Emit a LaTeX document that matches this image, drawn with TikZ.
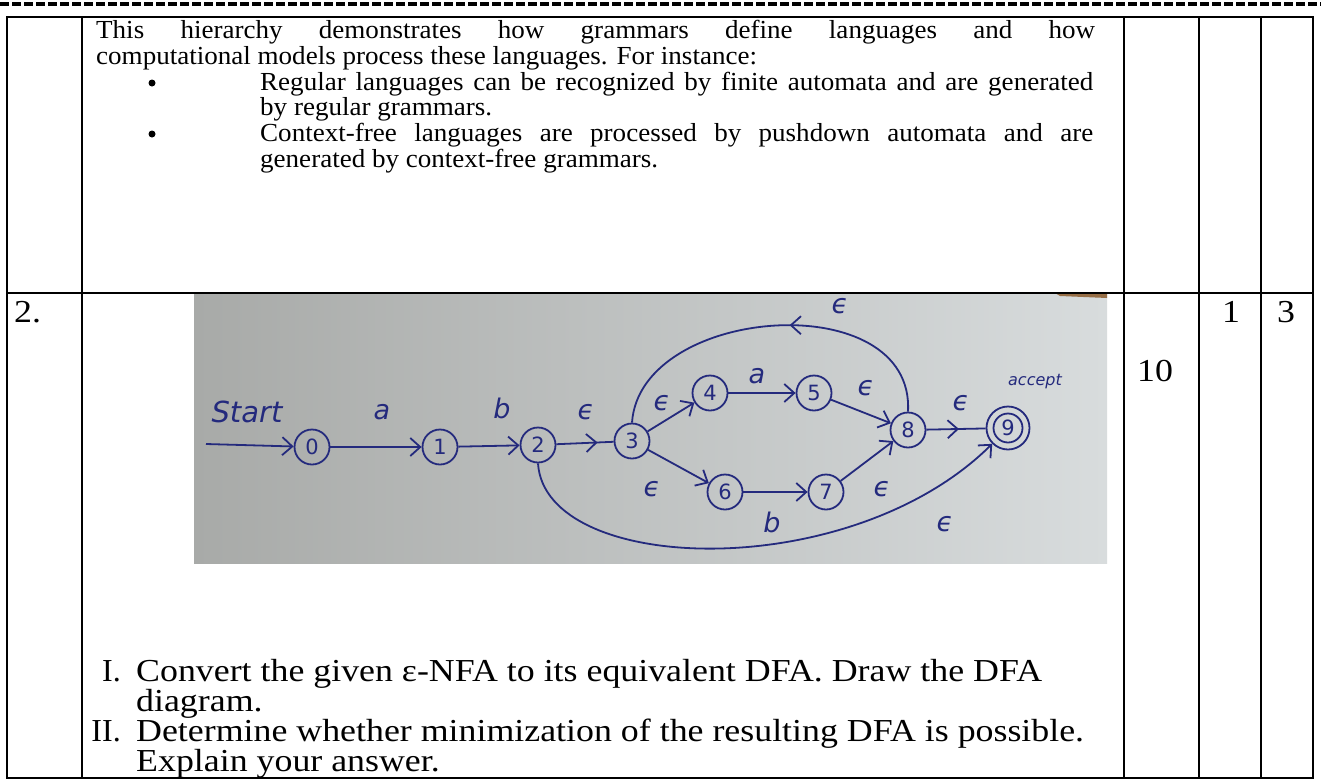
\documentclass[tikz,border=0pt]{standalone}
\usepackage{fontspec}
\setmainfont{Liberation Serif}[FakeStretch=1.04]
\newfontfamily\bigfont{Liberation Serif}[FakeStretch=1.12]
\newfontfamily\numfont{Liberation Serif}
\newfontfamily\hand{DejaVu Sans}
\usetikzlibrary{arrows.meta,decorations.markings}
\definecolor{ink}{RGB}{36,42,125}
\definecolor{photoL}{RGB}{168,170,168}
\definecolor{photoR}{RGB}{216,220,221}
\definecolor{tape}{RGB}{150,110,70}
\begin{document}
\begin{tikzpicture}[x=1pt,y=-1pt,
  rule/.style={line width=2pt,black},
  body/.style={anchor=base west,inner sep=0pt,font=\fontsize{26}{28}\selectfont},
  big/.style={anchor=base west,inner sep=0pt,font=\bigfont\fontsize{32}{36}\selectfont},
  roman/.style={anchor=base east,inner sep=0pt,font=\numfont\fontsize{32}{36}\selectfont},
  dot/.style={circle,fill=black,inner sep=0pt,minimum size=7pt},
  state/.style={circle,draw=ink,line width=1.8pt,minimum size=35pt,inner sep=0pt,text=ink,font=\hand\fontsize{21}{21}\selectfont},
  lab/.style={text=ink,inner sep=0pt,font=\hand\itshape\fontsize{27}{27}\selectfont},
  tipb/.tip={Straight Barb[length=10pt,width=18pt,line width=1.8pt]},
  edge/.style={draw=ink,line width=1.8pt,-tipb},
  midedge/.style={draw=ink,line width=1.8pt,postaction={decorate},decoration={markings,mark=at position #1 with {\arrow{tipb}}}},
  revedge/.style={draw=ink,line width=1.8pt,postaction={decorate},decoration={markings,mark=at position #1 with {\arrowreversed{tipb}}}},
]
\useasboundingbox (0,0) rectangle (1321,779);
\fill[white] (0,0) rectangle (1321,779);
% top dashed separator
\draw[line width=3.5pt,dash pattern=on 9pt off 3pt] (0,4) -- (1321,4);

% photo background
\shade[left color=photoL,right color=photoR] (194,293) rectangle (1107,563);
\fill[tape] (1055,293) -- (1107,293) -- (1107,298) -- (1060,296) -- cycle;

% table rules
\draw[rule] (7,17) rectangle (1313,778);
\draw[rule] (7,293) -- (1313,293);
\foreach \xx in {82,1124,1199,1261} \draw[rule] (\xx,17) -- (\xx,778);

% first row text
\node[body] (p1) at (96,38) {\makebox[999pt][s]{This hierarchy demonstrates how grammars define languages and how}};
\node[body] (p2) at (96,64) {computational models process these languages. For instance:};
\node[dot] (b1) at (152,83) {};
\node[body] (l3) at (260,90) {\makebox[833pt][s]{Regular languages can be recognized by finite automata and are generated}};
\node[body] (l4) at (260,115) {by regular grammars.};
\node[dot] (b2) at (152,134) {};
\node[body] (l5) at (260,141) {\makebox[833pt][s]{Context-free languages are processed by pushdown automata and are}};
\node[body] (l6) at (260,167) {generated by context-free grammars.};

% second row numbers
\node[big] (n2) at (14,322) {2.};
\node[big] (n10) at (1137,381) {10};
\node[big,anchor=base] (n1) at (1231,322) {1};
\node[big,anchor=base] (n3) at (1286,322) {3};

% questions
\node[roman] (r1) at (121,681) {I.};
\node[big] (q1) at (136,681) {Convert the given ε-NFA to its equivalent DFA. Draw the DFA};
\node[big] (q1b) at (136,711) {diagram.};
\node[roman] (r2) at (121,741) {II.};
\node[big] (q2) at (136,741) {Determine whether minimization of the resulting DFA is possible.};
\node[big] (q2b) at (136,771) {Explain your answer.};

% automaton (hand drawn)
\node[state] (s0) at (312,447) {0};
\node[state] (s1) at (440,447) {1};
\node[state] (s2) at (538,445) {2};
\node[state] (s3) at (632,441) {3};
\node[state] (s4) at (710,393) {4};
\node[state] (s5) at (814,393) {5};
\node[state] (s6) at (725,492) {6};
\node[state] (s7) at (826,492) {7};
\node[state] (s8) at (908,430) {8};
\node[state,minimum size=43pt] (s9) at (1008,428) {9};
\draw[ink,line width=1.8pt] (s9.center) circle (14.5pt);

\coordinate (st) at (206,444);
\draw[edge] (st) -- (s0);
\draw[edge] (s0) -- (s1);
\draw[edge] (s1) -- (s2);
\draw[midedge=0.72] (s2) -- (s3);
\draw[edge] (s3) -- (s4);
\draw[edge] (s4) -- (s5);
\draw[edge] (s5) -- (s8);
\draw[edge] (s3) -- (s6);
\draw[edge] (s6) -- (s7);
\draw[edge] (s7) -- (s8);
\draw[midedge=0.55] (s8) -- (s9);
\draw[revedge=0.55] (s3.north) .. controls (640,305) and (915,285) .. (s8.north);
\draw[edge] (s2.south) .. controls (545,575) and (850,585) .. (s9.south west);

\node[lab,font=\hand\itshape\fontsize{29}{29}\selectfont] (lstart) at (247,412) {Start};
\node[lab,font=\hand\itshape\fontsize{16}{16}\selectfont] (lacc) at (1035,382) {accept};
\node[lab] (la01) at (382,412) {a};
\node[lab] (lb12) at (502,408) {b};
\node[lab] (le23) at (586,412) {ϵ};
\node[lab] (le34) at (662,403) {ϵ};
\node[lab] (la45) at (757,376) {a};
\node[lab] (le58) at (866,388) {ϵ};
\node[lab] (le89) at (961,403) {ϵ};
\node[lab] (le36) at (652,489) {ϵ};
\node[lab] (lb67) at (772,522) {b};
\node[lab] (le78) at (882,489) {ϵ};
\node[lab] (letop) at (840,306) {ϵ};
\node[lab] (lebot) at (945,524) {ϵ};
\end{tikzpicture}
\end{document}
